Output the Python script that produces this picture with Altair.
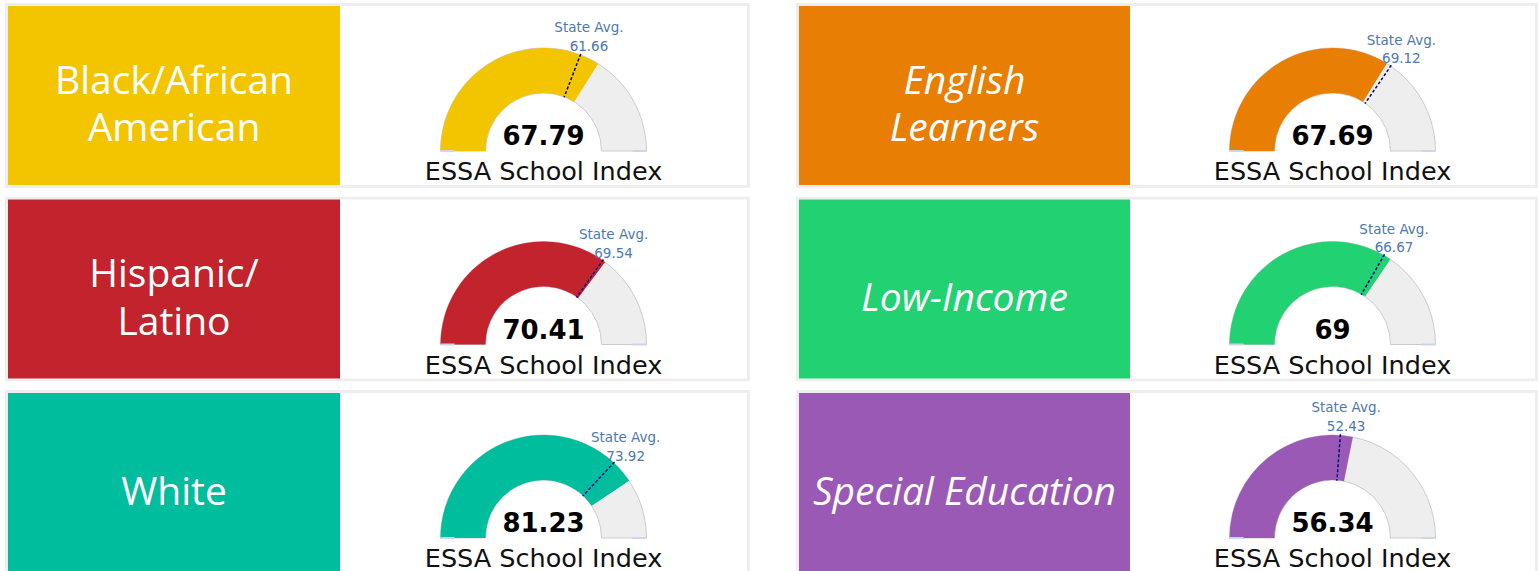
import math
import altair as alt
import pandas as pd

# ---- data ----
groups = ["Black/African American", "English Learners", "Hispanic/Latino",
          "Low-Income", "White", "Special Education"]
label_lines = ["Black/African\nAmerican", "English\nLearners", "Hispanic/\nLatino",
               "Low-Income", "White", "Special Education"]
italic = [False, True, False, True, False, True]
school_index = [67.79, 67.69, 70.41, 69, 81.23, 56.34]
state_avg = [61.66, 69.12, 69.54, 66.67, 73.92, 52.43]
colors = ["#f2c500", "#e87e04", "#c2232d", "#22d172", "#00bd9d", "#9b59b6"]
gauge_min, gauge_max = 0, 100
index_title = "ESSA School Index"
avg_title = "State Avg."

# ---- layout / style ----
panel_w = [745, 742]
row_h = [185, 185, 181]
r_outer, r_inner = 103, 58
theta_scale = alt.Scale(domain=[gauge_min, gauge_max], range=[-math.pi / 2, math.pi / 2])


def panel(i):
    col, row = i % 2, i // 2
    W, H = panel_w[col], row_h[row]
    last = row == 2
    lines = label_lines[i].split("\n")
    df = pd.DataFrame({
        "group": [groups[i]],
        "line1": [lines[0]],
        "line2": [lines[1] if len(lines) > 1 else ""],
        "value": [school_index[i]],
        "avg": [state_avg[i]],
        "color": [colors[i]],
        "lo": [gauge_min],
        "hi": [gauge_max],
    })
    base = alt.Chart(df)
    box_r = 335 if col == 0 else 334
    bottom = H + 10 if last else H - 1.5
    cx = (box_r + W - 3) / 2
    cy = 148
    two_lines = len(lines) > 1

    def th(field):
        return alt.Theta(field, type="quantitative", scale=theta_scale, stack=None)

    border = base.mark_rect(fill="white", stroke="#eeeeee", strokeWidth=3, clip=True).encode(
        x=alt.value(1.5), x2=alt.value(W - 1.5), y=alt.value(1.5), y2=alt.value(bottom))
    box = base.mark_rect(clip=True).encode(
        x=alt.value(3), x2=alt.value(box_r), y=alt.value(3),
        y2=alt.value(H + 10 if last else H - 3),
        color=alt.Color("color:N", scale=None))
    label_style = dict(font="Open Sans", fontSize=39, color="white", align="center",
                       baseline="alphabetic",
                       fontStyle="italic" if italic[i] else "normal")
    label_layers = [base.mark_text(**label_style).encode(
        x=alt.value((3 + box_r) / 2), y=alt.value(90.5 if two_lines else 114.5),
        text="line1:N")]
    if two_lines:
        label_layers.append(base.mark_text(**label_style).encode(
            x=alt.value((3 + box_r) / 2), y=alt.value(138), text="line2:N"))

    bg = base.mark_arc(fill="#eeeeee", stroke="#cccccc", strokeWidth=1,
                       radius=r_outer, radius2=r_inner).encode(
        theta=th("lo"), theta2=alt.Theta2("hi"),
        x=alt.value(cx), y=alt.value(cy))
    val = base.mark_arc(radius=r_outer, radius2=r_inner).encode(
        theta=th("lo"), theta2=alt.Theta2("value"),
        color=alt.Color("color:N", scale=None),
        x=alt.value(cx), y=alt.value(cy))
    ticks = [
        base.mark_arc(radius=r_outer, radius2=r_outer - 14, stroke="#ccd6eb",
                      strokeWidth=2, fillOpacity=0).encode(
            theta=th(f), theta2=alt.Theta2(f),
            x=alt.value(cx), y=alt.value(cy))
        for f in ("lo", "hi")
    ]
    avg_line = base.mark_arc(radius=104, radius2=57.5, stroke="#000080", strokeWidth=1.5,
                             strokeDash=[3, 2], fillOpacity=0).encode(
        theta=th("avg"), theta2=alt.Theta2("avg"),
        x=alt.value(cx), y=alt.value(cy))
    avg_num = base.mark_text(font="DejaVu Sans", fontSize=13.5, color="#4d78b0",
                             align="center", baseline="alphabetic", dx=5, dy=5.5).encode(
        theta=th("avg"), radius=alt.value(113),
        text=alt.Text("avg:Q", format="~g"),
        x=alt.value(cx), y=alt.value(cy))
    avg_txt = base.mark_text(font="DejaVu Sans", fontSize=13.5, color="#4d78b0",
                             align="center", baseline="alphabetic", dx=5, dy=-13).encode(
        theta=th("avg"), radius=alt.value(113),
        text=alt.value(avg_title),
        x=alt.value(cx), y=alt.value(cy))
    center_val = base.mark_text(font="DejaVu Sans", fontWeight="bold", fontSize=26,
                                color="#000000", align="center", baseline="alphabetic").encode(
        x=alt.value(cx), y=alt.value(142), text=alt.Text("value:Q", format="~g"))
    title = base.mark_text(font="DejaVu Sans", fontSize=25.5, color="#111111",
                           align="center", baseline="alphabetic").encode(
        x=alt.value(cx), y=alt.value(177), text=alt.value(index_title))

    return alt.layer(border, box, *label_layers, bg, val, *ticks, avg_line, avg_num,
                     avg_txt, center_val, title).properties(width=W, height=H)


rows = [alt.hconcat(panel(2 * r), panel(2 * r + 1), spacing=46) for r in range(3)]
chart = alt.vconcat(*rows, spacing=8.5).properties(
    padding={"left": 5, "top": 3, "right": 0, "bottom": 0},
    background="white",
).configure_view(stroke=None)

chart.save("out.html", embed_options={"renderer": "svg", "actions": False})
